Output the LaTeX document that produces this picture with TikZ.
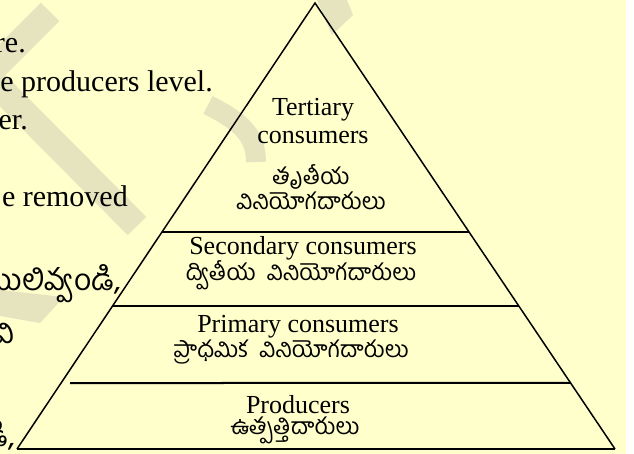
\documentclass[tikz,border=0pt]{standalone}
\usepackage{fontspec}
\setmainfont{Liberation Serif}
\newfontfamily\telugu[Script=Telugu]{Hind Guntur}
\usetikzlibrary{positioning, calc}
\definecolor{paperYellow}{HTML}{FFFFCC}
\definecolor{markKhaki}{HTML}{E6E4BE}

\begin{document}
\begin{tikzpicture}[x=1pt, y=-1pt,
  level/.style={font=\fontsize{26}{28}\selectfont, inner sep=0pt, align=center},
  levelTe/.style={font=\telugu\fontsize{23}{25}\selectfont, inner sep=0pt, align=center},
  frag/.style={anchor=base east, inner sep=0pt, font=\fontsize{30}{32}\selectfont},
  fragTe/.style={anchor=base east, inner sep=0pt, font=\telugu\fontsize{30}{32}\selectfont},
  tier/.style={line width=2pt},
  wmark/.style={markKhaki}]

\useasboundingbox (0,0) rectangle (634,454);
\fill[white] (0,0) rectangle (634,454);
\fill[paperYellow] (0,0) rectangle (626,454);

\draw[wmark, line width=26pt, line join=miter] (50,12) -- (-13,75) -- (137,226);
\draw[wmark, line width=20pt] (208,105) .. controls (240,121) and (256,135) .. (256,162);
\fill[wmark] (317,0) -- (347,0) -- (353,15) -- (332,35) -- cycle;
\fill[wmark] (0,290) -- (64,297) -- (40,323) -- (0,316) -- cycle;

\coordinate (apex) at (315,3);
\coordinate (bl) at (17,449);
\coordinate (br) at (615,449);
\draw[line width=1.5pt, line join=miter] (bl) -- (apex) -- (br);
\draw[line width=2pt] (bl) -- (br);
\draw[tier] ($(bl)!0.4865!(apex)$) -- ($(br)!0.4865!(apex)$);
\draw[tier] ($(bl)!0.3206!(apex)$) -- ($(br)!0.3206!(apex)$);
\draw[tier] (70,383) -- ($(br)!0.148!(apex)$);

\node[level]   (ter)   at (313,121) {Tertiary\\consumers};
\node[levelTe] (terTe) at (311,187) {తృతీయ\\వినియోగదారులు};
\node[level]   (sec)   at (303,248) {Secondary consumers};
\node[levelTe] (secTe) at (301,275) {ద్వితీయ\ \ వినియోగదారులు};
\node[level]   (pri)   at (298,327) {Primary consumers};
\node[levelTe] (priTe) at (291,352) {ప్రాధమిక\ \ వినియోగదారులు};
\node[level]   (pro)   at (298,405) {Producers};
\node[levelTe] (proTe) at (295,430) {ఉత్పత్తిదారులు};

\node[frag]   (f1) at (26,53)   {re.};
\node[frag]   (f2) at (213,92)  {e producers level.};
\node[frag]   (f3) at (28,130)  {er.};
\node[frag]   (f4) at (128,207) {e removed};
\node[fragTe] (f5) at (121,290) {ములివ్వండి,};
\node[fragTe] (f6) at (15,343)  {వి};
\node[fragTe] (f7) at (15,446)  {డి,};

\end{tikzpicture}
\end{document}
